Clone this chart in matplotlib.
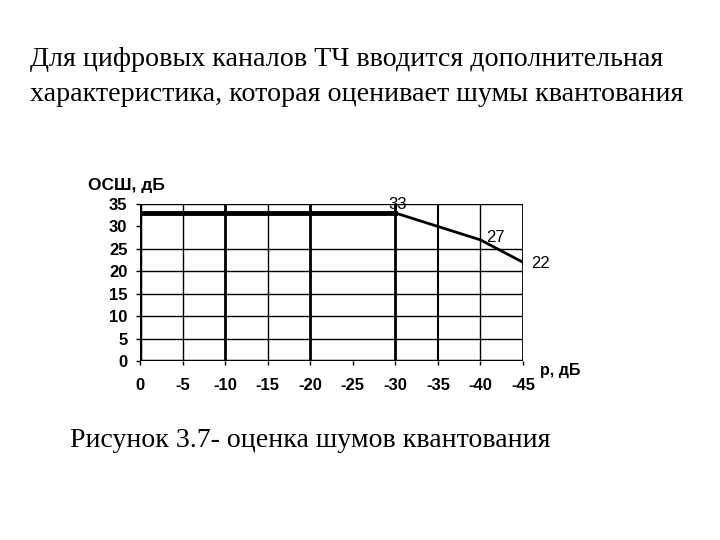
import numpy as np
import matplotlib.pyplot as plt

# данные графика ОСШ(p)
p_db = [0, -30, -40, -45]
osh_db = [33, 33, 27, 22]
point_labels = ['33', '27', '22']
x_ticks = [0, -5, -10, -15, -20, -25, -30, -35, -40, -45]
y_ticks = [0, 5, 10, 15, 20, 25, 30, 35]

fig = plt.figure(figsize=(7.2, 5.4), dpi=100)
fig.patch.set_facecolor('white')

serif = ['Liberation Serif', 'DejaVu Serif']
sans = ['Liberation Sans', 'DejaVu Sans']

fig.text(0.042, 0.89, u"Для цифровых каналов ТЧ вводится дополнительная",
         family=serif, fontsize=20.2, va='center', ha='left')
fig.text(0.042, 0.825, u"характеристика, которая оценивает шумы квантования",
         family=serif, fontsize=20.2, va='center', ha='left')
fig.text(0.097, 0.185, u"Рисунок 3.7- оценка шумов квантования",
         family=serif, fontsize=20.1, va='center', ha='left')

ax = fig.add_axes([0.1944, 0.3315, 0.532, 0.2907])
ax.set_xlim(0, -45)
ax.set_ylim(0, 35)
for s in ax.spines.values():
    s.set_visible(False)

# сетка: толщина линий как на исходном рисунке
vwidth = {0: 2.5, -5: 1.0, -10: 2.0, -15: 1.0, -20: 2.0, -30: 2.0,
          -35: 1.5, -40: 1.0, -45: 1.3}
for x, w in vwidth.items():
    ax.plot([x, x], [0, 35], color='black', lw=w, solid_capstyle='butt', zorder=1)
for y in [5, 10, 15, 20, 25, 35]:
    ax.plot([0, -45], [y, y], color='black', lw=1.0, zorder=1)
ax.plot([0, -45], [0, 0], color='black', lw=2.5, zorder=1)

ax.plot(p_db[:2], osh_db[:2], color='black', lw=3.5, zorder=3)
ax.plot(p_db[1:], osh_db[1:], color='black', lw=2.0, zorder=3)

ax.text(-30.3, 33.3, point_labels[0], family=sans, fontsize=12, ha='center', va='bottom')
ax.text(-41.8, 25.9, point_labels[1], family=sans, fontsize=12, ha='center', va='bottom')
ax.text(-46.0, 21.7, point_labels[2], family=sans, fontsize=12, ha='left', va='center')

ax.set_xticks(x_ticks)
ax.set_yticks(y_ticks)
ax.set_xticklabels([str(v) for v in x_ticks], family=sans, fontsize=12, fontweight='bold')
ax.set_yticklabels([str(v) for v in y_ticks], family=sans, fontsize=12, fontweight='bold')
ax.tick_params(axis='x', length=3, width=1, pad=9)
ax.tick_params(axis='y', length=3, width=1, pad=6)

ax.text(-0.136, 1.115, u"ОСШ, дБ", transform=ax.transAxes, family=sans,
        fontsize=12.5, fontweight='bold', ha='left', va='center')
ax.text(1.045, -0.06, u"р, дБ", transform=ax.transAxes, family=sans,
        fontsize=11.5, fontweight='bold', ha='left', va='center')

plt.savefig('out.png', dpi=100)
